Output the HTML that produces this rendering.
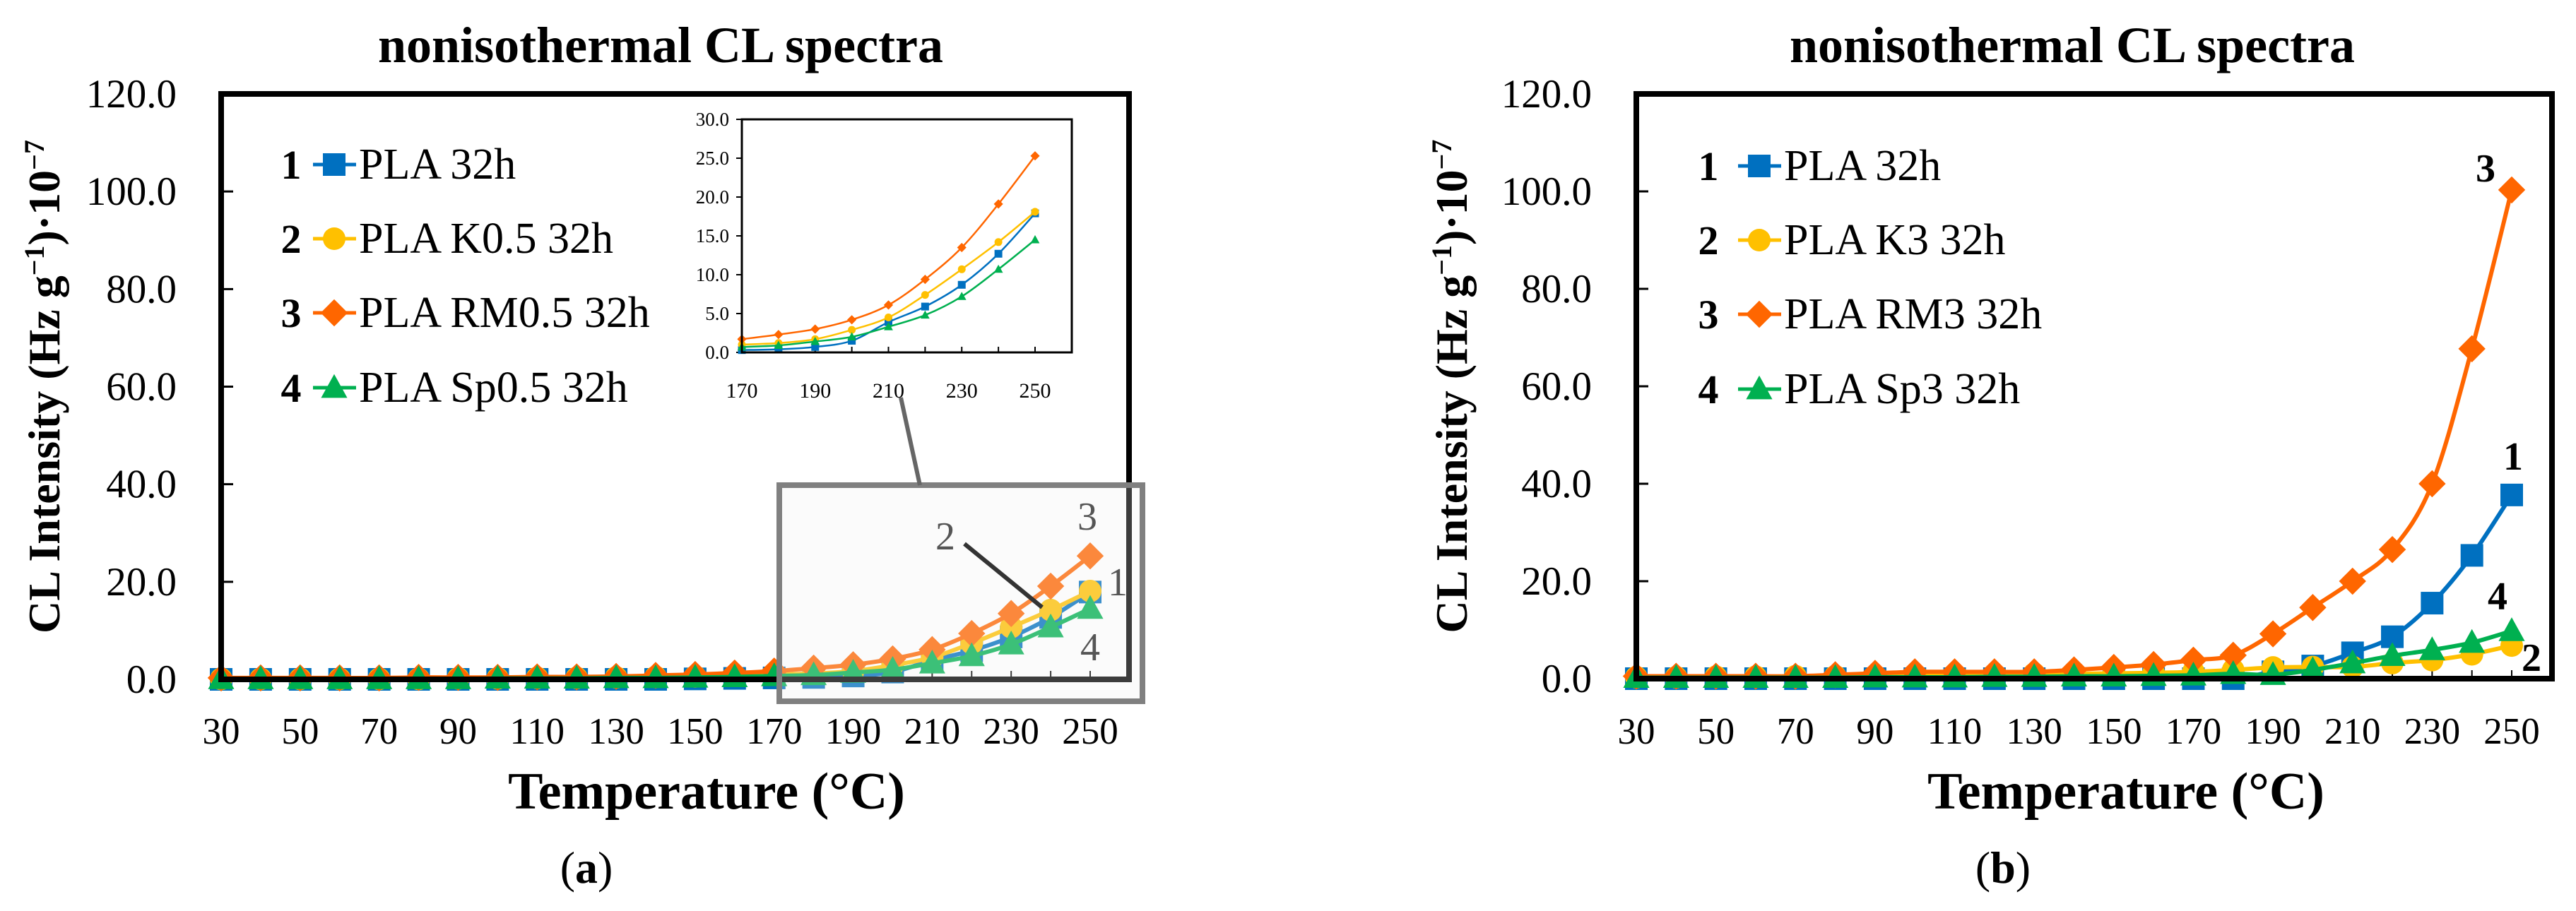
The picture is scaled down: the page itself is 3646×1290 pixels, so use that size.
<!DOCTYPE html>
<html><head><meta charset="utf-8"><style>
html,body{margin:0;padding:0;background:#fff;}
svg{display:block;font-family:"Liberation Serif",serif;}
</style></head><body>
<svg id="fig" width="3646" height="1290" viewBox="0 0 3646 1290" xmlns="http://www.w3.org/2000/svg"></svg>
<script>
const temps = [30,40,50,60,70,80,90,100,110,120,130,140,150,160,170,180,190,200,210,220,230,240,250];
const xTickLabels = [30,50,70,90,110,130,150,170,190,210,230,250];
const yTickLabels = ["0.0","20.0","40.0","60.0","80.0","100.0","120.0"];
const yTickValues = [0,20,40,60,80,100,120];
// panel a
const aPLA   = [0,0,0,0,0,0,0,0,0,0,0,0,0.1,0.2,0.3,0.4,0.7,1.5,3.9,5.9,8.7,12.7,17.9];
const aK     = [0.1,0.1,0.1,0.1,0.1,0.1,0.2,0.2,0.3,0.3,0.4,0.5,0.6,0.8,1.0,1.2,1.7,2.9,4.5,7.4,10.7,14.2,18.1];
const aRM    = [0.3,0.3,0.3,0.3,0.3,0.4,0.4,0.4,0.5,0.5,0.6,0.8,1.0,1.3,1.7,2.3,3.0,4.2,6.1,9.4,13.5,19.1,25.3];
const aSp    = [0.1,0.1,0.1,0.1,0.1,0.1,0.1,0.2,0.2,0.2,0.3,0.3,0.4,0.5,0.7,0.9,1.4,2.0,3.3,4.8,7.2,10.7,14.5];
// inset of panel a
const insetTemps = [170,180,190,200,210,220,230,240,250];
const insetXLabels = [170,190,210,230,250];
const insetYLabels = ["0.0","5.0","10.0","15.0","20.0","25.0","30.0"];
const insetYValues = [0,5,10,15,20,25,30];
// panel b
const bPLA   = [0,0,0,0,0,0,0,0,0,0,0,0,0,0,0,0,1.4,2.6,5.3,8.6,15.5,25.3,37.7];
const bK     = [0.3,0.3,0.4,0.4,0.5,0.5,0.6,0.7,0.8,0.9,1.0,1.0,1.1,1.2,1.4,1.8,2.3,2.4,2.4,3.2,3.8,5.0,6.8];
const bRM    = [0.5,0.5,0.5,0.5,0.5,0.8,1.1,1.4,1.4,1.4,1.4,1.8,2.3,2.9,3.8,4.8,9.2,14.6,20.0,26.5,40.0,67.7,100.3];
const bSp    = [0.2,0.2,0.2,0.2,0.2,0.2,0.3,0.3,0.3,0.4,0.4,0.5,0.5,0.6,0.7,1.0,0.8,1.8,3.2,4.7,5.9,7.4,9.8];

const NS="http://www.w3.org/2000/svg";
const svg=document.getElementById('fig');
const C={blue:"#0070C0",yellow:"#FFC000",orange:"#FF6600",green:"#00B050"};
function mk(tag,attrs,parent,text){const e=document.createElementNS(NS,tag);for(const k in attrs)e.setAttribute(k,attrs[k]);if(text!==undefined)e.textContent=text;(parent||svg).appendChild(e);return e;}
function smooth(pts){let d="M"+pts[0][0]+","+pts[0][1];for(let i=0;i<pts.length-1;i++){const p0=pts[i-1]||pts[i],p1=pts[i],p2=pts[i+1],p3=pts[i+2]||p2;const t=1/6;d+=" C"+(p1[0]+(p2[0]-p0[0])*t)+","+(p1[1]+(p2[1]-p0[1])*t)+" "+(p2[0]-(p3[0]-p1[0])*t)+","+(p2[1]-(p3[1]-p1[1])*t)+" "+p2[0]+","+p2[1];}return d;}
function marker(g,type,x,y,s,color){
  let e;
  if(type==="square"){e=mk('rect',{x:x-s/2,y:y-s/2,width:s,height:s,fill:color},g);}
  else if(type==="circle"){e=mk('circle',{cx:x,cy:y,r:s/2,fill:color},g);}
  else if(type==="diamond"){e=mk('polygon',{points:`${x},${y-s*0.6} ${x+s*0.6},${y} ${x},${y+s*0.6} ${x-s*0.6},${y}`,fill:color},g);}
  else {e=mk('polygon',{points:`${x},${y-s*0.6} ${x+s*0.58},${y+s*0.45} ${x-s*0.58},${y+s*0.45}`,fill:color},g);}
  
  
  return e;
}
function series(g,xs,vals,xf,yf,color,type,lw,ms,name){
  const pts=xs.map((t,i)=>[xf(t),yf(vals[i])]);
  const p=mk('path',{d:smooth(pts),fill:"none",stroke:color,"stroke-width":lw},g);
  
  
  pts.forEach(q=>marker(g,type,q[0],q[1],ms,color));
}
function panel(o){
  const g=mk('g',{});
  
  
  const xf=t=>o.x0+(t-30)*(o.x1-o.x0)/220;
  const yf=v=>o.yb-(v/120)*(o.yb-o.yt);
  const t=mk('text',{x:o.titleX,y:88,"font-size":72,"font-weight":"bold","text-anchor":"middle"},g,"nonisothermal CL spectra");
  
  yTickValues.forEach((v,i)=>{
    mk('line',{x1:o.left,x2:o.left+17,y1:yf(v),y2:yf(v),stroke:"#000","stroke-width":3},g);
    const l=mk('text',{x:o.left-63,y:yf(v)+19,"font-size":57,"text-anchor":"end"},g,yTickLabels[i]);
    
  });
  temps.forEach(v=>mk('line',{x1:xf(v),x2:xf(v),y1:o.yb,y2:o.yb-12,stroke:"#000","stroke-width":2},g));
  xTickLabels.forEach(v=>{
    const l=mk('text',{x:xf(v),y:1053,"font-size":53,"text-anchor":"middle"},g,String(v));
    
  });
  const yl=mk('text',{transform:`translate(${o.ylabX},${(o.yt+o.yb)/2}) rotate(-90)`,"font-size":64,"font-weight":"bold","text-anchor":"middle"},g);
  
  yl.innerHTML='CL Intensity (Hz g<tspan baseline-shift="super" font-size="40">−1</tspan>)·10<tspan baseline-shift="super" font-size="40">−7</tspan>';
  const xl=mk('text',{x:o.xlabX,y:1145,"font-size":74,"font-weight":"bold","text-anchor":"middle"},g,"Temperature (°C)");
  
  const pl=mk('text',{x:o.subX,y:1250,"font-size":64,"text-anchor":"middle"},g);
  
  pl.innerHTML='(<tspan font-weight="bold">'+o.sub+'</tspan>)';
  o.series.forEach(s=>series(g,temps,s.vals,xf,yf,s.color,s.type,6,32,s.name));
  const f=mk('rect',{x:o.left,y:o.yt,width:o.right-o.left,height:o.yb-o.yt,fill:"none",stroke:"#000","stroke-width":8},g);
  
  o.series.forEach((s,i)=>{
    const y=o.legY[i];
    const lg=mk('g',{},g);
    
    mk('text',{x:o.legNumX,y:y+20,"font-size":58,"font-weight":"bold","text-anchor":"middle"},lg,String(i+1));
    mk('line',{x1:o.legLineX,x2:o.legLineX+61,y1:y,y2:y,stroke:s.color,"stroke-width":5},lg);
    marker(lg,s.type,o.legLineX+30,y,32,s.color);
    mk('text',{x:o.legLineX+65,y:y+20,"font-size":62},lg,s.label);
  });
  o.labels.forEach(l=>{
    const e=mk('text',{x:l[1],y:l[2],"font-size":56,"font-weight":o.labelWeight,"text-anchor":"middle",fill:o.labelFill},g,l[0]);
    
  });
  return {g,xf,yf};
}
const A=panel({id:'panel-a',left:313,right:1598,x0:313,x1:1543,yt:133,yb:962,titleX:935,ylabX:84,xlabX:1000,subX:830,sub:'a',
  legNumX:412,legLineX:443,legY:[233,338,443,549],labelFill:"#222",labelWeight:"normal",
  series:[{vals:aPLA,color:C.blue,type:'square',label:'PLA 32h',name:'pla'},
          {vals:aK,color:C.yellow,type:'circle',label:'PLA K0.5 32h',name:'pla-k05'},
          {vals:aRM,color:C.orange,type:'diamond',label:'PLA RM0.5 32h',name:'pla-rm05'},
          {vals:aSp,color:C.green,type:'triangle',label:'PLA Sp0.5 32h',name:'pla-sp05'}],
  labels:[['3',1539,750],['2',1338,778],['1',1582,843],['4',1543,935]]});
(function(){
  const g=A.g;
  const r=mk('rect',{x:1103,y:687,width:514,height:306,fill:"rgba(240,240,240,0.25)",stroke:"#808080","stroke-width":8},g);
  
  const c=mk('line',{x1:1275,y1:563,x2:1302,y2:687,stroke:"#666","stroke-width":6},g);
  
  const a=mk('line',{x1:1365,y1:770,x2:1475,y2:860,stroke:"#333","stroke-width":6},g);
  
  const ig=mk('g',{},g);
  
  const L=1050,R=1517,T=169,B=499;
  const xf=t=>L+(t-170)*(1465-L)/80;
  const yf=v=>B-v*(B-T)/30;
  mk('rect',{x:L,y:T,width:R-L,height:B-T,fill:"#fff",stroke:"none"},ig);
  insetYValues.forEach((v,i)=>{
    mk('line',{x1:L-8,x2:L,y1:yf(v),y2:yf(v),stroke:"#000","stroke-width":2},ig);
    const e=mk('text',{x:L-18,y:yf(v)+9,"font-size":27,"text-anchor":"end"},ig,insetYLabels[i]);
    
  });
  insetTemps.forEach(t=>mk('line',{x1:xf(t),x2:xf(t),y1:B,y2:B-8,stroke:"#000","stroke-width":2},ig));
  insetXLabels.forEach(v=>{
    const e=mk('text',{x:xf(v),y:B+64,"font-size":30,"text-anchor":"middle"},ig,String(v));
    
  });
  const sl=temps.indexOf(170);
  [[aPLA,C.blue,'square','inset-pla'],[aK,C.yellow,'circle','inset-pla-k05'],[aRM,C.orange,'diamond','inset-pla-rm05'],[aSp,C.green,'triangle','inset-pla-sp05']]
   .forEach(s=>series(ig,insetTemps,s[0].slice(sl),xf,yf,s[1],s[2],2.5,11,s[3]));
  mk('rect',{x:L,y:T,width:R-L,height:B-T,fill:"none",stroke:"#000","stroke-width":3},ig);
})();
panel({id:'panel-b',left:2316,right:3612,x0:2316,x1:3555,yt:133,yb:961,titleX:2933,ylabX:2076,xlabX:3009,subX:2835,sub:'b',
  legNumX:2418,legLineX:2460,legY:[235,340,445,551],labelFill:"#000",labelWeight:"bold",
  series:[{vals:bPLA,color:C.blue,type:'square',label:'PLA 32h',name:'pla'},
          {vals:bK,color:C.yellow,type:'circle',label:'PLA K3 32h',name:'pla-k3'},
          {vals:bRM,color:C.orange,type:'diamond',label:'PLA RM3 32h',name:'pla-rm3'},
          {vals:bSp,color:C.green,type:'triangle',label:'PLA Sp3 32h',name:'pla-sp3'}],
  labels:[['3',3518,257],['1',3557,665],['4',3535,863],['2',3583,950]]});
</script>
</body></html>
